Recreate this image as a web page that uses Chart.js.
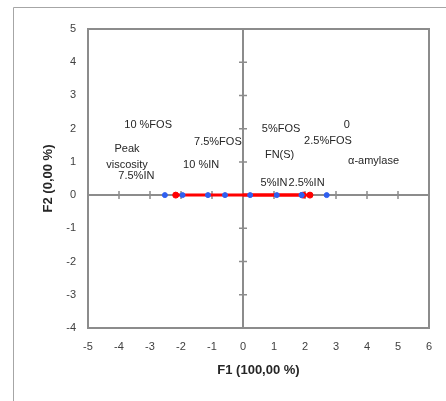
<!DOCTYPE html>
<html>
<head>
<meta charset="utf-8">
<script src="https://cdn.jsdelivr.net/npm/chart.js@4"></script>
<style>
    html, body { margin: 0; padding: 0; background: #fff; }
    canvas { display: block; }
</style>
</head>
<body>
<canvas id="biplot" width="446" height="401"></canvas>
<script>
// observations (blue) on F1, F2 is 0 for all
const obsNames = ['0', '2.5%FOS', '5%FOS', '7.5%FOS', '10 %FOS', '2.5%IN', '5%IN', '7.5%IN', '10 %IN'];
const obsF1 = [2.70, 1.89, 1.09, -0.58, -2.52, 1.89, 0.23, -1.95, -1.13];
const obsF2 = [0, 0, 0, 0, 0, 0, 0, 0, 0];

// variables (red)
const varNames = ['Peak viscosity', 'FN(S)', 'α-amylase'];
const varF1 = [-2.17, 1.94, 2.16];
const varF2 = [0, 0, 0];

// where the labels sit, in axis units
const obsLabelX = [3.35, 2.74, 1.23, -0.81, -3.06, 2.05, 1.00, -3.44, -1.35];
const obsLabelY = [2.11, 1.63, 1.99, 1.60, 2.11, 0.36, 0.36, 0.57, 0.90];
const varLabelX = [-3.74, 1.18, 4.21];
const varLabelY = [1.14, 1.20, 1.02];

const xTicks = [-5, -4, -3, -2, -1, 0, 1, 2, 3, 4, 5, 6];
const yTicks = [-4, -3, -2, -1, 0, 1, 2, 3, 4, 5];

const FONT = "'Liberation Sans', Arial, sans-serif";
const GREY = '#8c8c8c';

const obsPoints = obsF1.map((v, i) => ({ x: v, y: obsF2[i] }));
const varPoints = varF1.map((v, i) => ({ x: v, y: varF2[i] }));

// one red vector from origin to each variable
const vectorSets = varF1.map((v, i) => ({
    type: 'line',
    data: [{ x: 0, y: 0 }, { x: v, y: varF2[i] }],
    borderColor: '#ff0000',
    borderWidth: 3,
    pointRadius: 0,
    order: 3
}));

const frame = {
    id: 'frame',
    beforeDatasetsDraw(chart) {
        const { ctx, chartArea: a, scales: { x, y } } = chart;
        ctx.save();
        // outer frame (left + top)
        ctx.strokeStyle = '#a6a6a6';
        ctx.lineWidth = 1;
        ctx.beginPath();
        ctx.moveTo(13.5, 401);
        ctx.lineTo(13.5, 7.5);
        ctx.lineTo(446, 7.5);
        ctx.stroke();

        // plot box
        ctx.strokeStyle = GREY;
        ctx.lineWidth = 2;
        ctx.strokeRect(a.left, a.top, a.right - a.left, a.bottom - a.top);

        // centre axes
        const x0 = x.getPixelForValue(0);
        const y0 = y.getPixelForValue(0);
        ctx.beginPath();
        ctx.moveTo(x0, a.top);
        ctx.lineTo(x0, a.bottom);
        ctx.moveTo(a.left, y0);
        ctx.lineTo(a.right, y0);
        ctx.stroke();

        ctx.lineWidth = 1.5;
        ctx.beginPath();
        xTicks.forEach(t => {
            if (t === 0 || t === xTicks[0] || t === xTicks[xTicks.length - 1]) return;
            const px = x.getPixelForValue(t);
            ctx.moveTo(px, y0 - 4);
            ctx.lineTo(px, y0 + 4);
        });
        yTicks.forEach(t => {
            if (t === 0 || t === yTicks[0] || t === yTicks[yTicks.length - 1]) return;
            const py = y.getPixelForValue(t);
            ctx.moveTo(x0 - 4, py);
            ctx.lineTo(x0 + 4, py);
        });
        ctx.stroke();
        ctx.restore();
    },
    afterDatasetsDraw(chart) {
        const { ctx, scales: { x, y } } = chart;
        ctx.save();
        ctx.font = '11px ' + FONT;
        ctx.fillStyle = '#262626';
        ctx.textAlign = 'center';
        ctx.textBaseline = 'middle';
        obsNames.forEach((name, i) => {
            ctx.fillText(name, x.getPixelForValue(obsLabelX[i]), y.getPixelForValue(obsLabelY[i]));
        });
        varNames.forEach((name, i) => {
            const px = x.getPixelForValue(varLabelX[i]);
            const py = y.getPixelForValue(varLabelY[i]);
            const lines = name === 'Peak viscosity' ? ['Peak', 'viscosity'] : [name];
            lines.forEach((ln, k) => {
                ctx.fillText(ln, px, py + (k - (lines.length - 1) / 2) * 16);
            });
        });
        ctx.restore();
    }
};

const config = {
    type: 'scatter',
    data: {
        datasets: [
            {
                label: 'Observations',
                data: obsPoints,
                backgroundColor: '#2f5ff0',
                borderColor: '#2f5ff0',
                pointRadius: 2.5,
                order: 1
            },
            {
                label: 'Variables',
                data: varPoints,
                backgroundColor: '#ff0000',
                borderColor: '#ff0000',
                pointRadius: 3,
                order: 2
            },
            ...vectorSets
        ]
    },
    options: {
        responsive: false,
        animation: false,
        layout: { padding: { top: 29, right: 17, left: 0, bottom: 0 } },
        plugins: {
            legend: { display: false },
            tooltip: { enabled: false }
        },
        scales: {
            x: {
                type: 'linear',
                min: -5,
                max: 6,
                afterBuildTicks: s => { s.ticks = xTicks.map(v => ({ value: v })); },
                afterFit: s => { s.height = 73; },
                grid: { display: false, drawTicks: false },
                border: { display: false },
                ticks: { color: '#404040', font: { family: FONT, size: 11 }, padding: 12, maxRotation: 0 },
                title: {
                    display: true,
                    text: 'F1 (100,00 %)',
                    color: '#262626',
                    font: { family: FONT, size: 13, weight: 'bold' },
                    padding: { top: 0, bottom: 23 }
                }
            },
            y: {
                type: 'linear',
                min: -4,
                max: 5,
                afterBuildTicks: s => { s.ticks = yTicks.map(v => ({ value: v })); },
                afterFit: s => { s.width = 88; },
                grid: { display: false, drawTicks: false },
                border: { display: false },
                ticks: { color: '#404040', font: { family: FONT, size: 11 }, padding: 12 },
                title: {
                    display: true,
                    text: 'F2 (0,00 %)',
                    color: '#262626',
                    font: { family: FONT, size: 13, weight: 'bold' },
                    padding: { top: 41, bottom: 0 }
                }
            }
        }
    },
    plugins: [frame]
};

const biplot = new Chart(document.getElementById('biplot'), config);
</script>
</body>
</html>
